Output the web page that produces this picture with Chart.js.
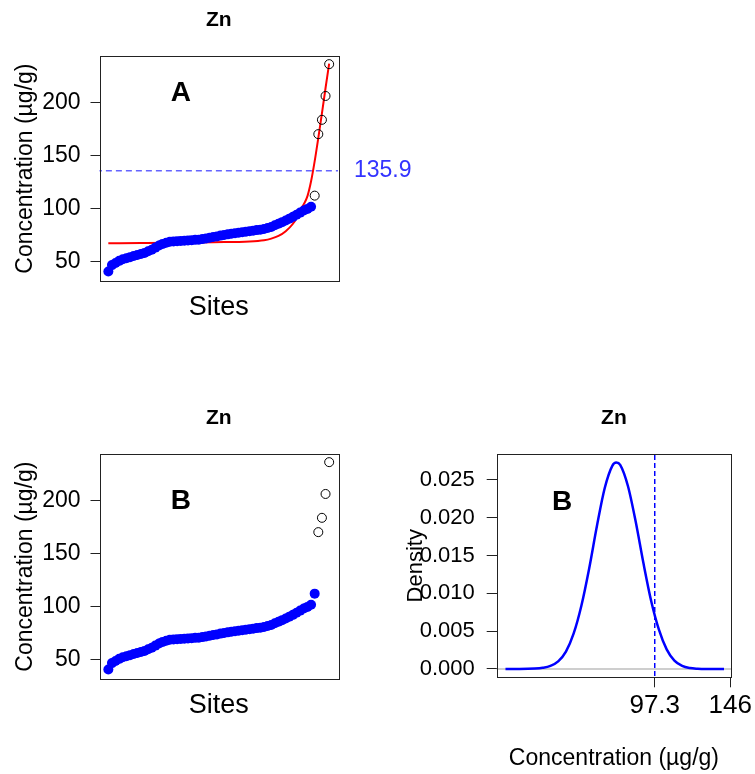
<!DOCTYPE html>
<html lang="en">
  <head>
    <meta charset="UTF-8" />
    <title>Zn</title>
    <script src="https://cdn.jsdelivr.net/npm/chart.js"></script>
    <style>
      body {
        margin: 0;
        background: #fff;
      }
      .wrap {
        position: relative;
        width: 755px;
        height: 774px;
      }
      canvas {
        position: absolute;
      }
    </style>
  </head>
  <body>
    <div class="wrap">
      <canvas id="panelA" width="430" height="335" style="left:0;top:0"></canvas>
      <canvas id="panelB" width="430" height="335" style="left:0;top:398px"></canvas>
      <canvas id="panelD" width="375" height="376" style="left:380px;top:398px"></canvas>
    </div>

    <script>
      // Zn concentration per site, sorted (ug/g)
      const zn = [41, 47, 49, 51, 52.5, 53.5, 54.5, 55.5, 56.5, 57.5, 58.5, 60, 61.5, 63.5,
        65.5, 67, 68, 69, 69.3, 69.5, 69.8, 70, 70.3, 70.5, 70.8, 71, 71.5, 72, 72.8, 73.5,
        74, 74.8, 75.3, 76, 76.5, 77, 77.5, 78, 78.5, 79, 79.5, 80, 80.3, 81, 82, 83, 84.5,
        86, 87.5, 89, 90.8, 92.5, 94.5, 96.5, 98.5, 100, 102, 112.5, 170.5, 184, 206.5, 236.5];
      const outliersA = 5;
      const outliersB = 4;
      const threshold = 135.9;

      // fitted curve (panel A)
      const fitX = [1, 10, 20, 30, 40, 44, 46, 48, 50, 52, 53, 54, 55, 56, 57, 58, 59, 60, 61, 62];
      const fitY = [67.6, 67.8, 68.1, 68.6, 69.3, 70.5, 72, 74.5, 79, 86, 91.5, 98.7, 104.5,
        112, 126, 145, 167, 190, 214, 237];

      // density (panel B right)
      const densX = [1, 10, 20, 25, 30, 35, 40, 45, 50, 55, 60, 65, 70, 72.5, 75, 80, 85, 90,
        95, 100, 105, 110, 115, 120, 125, 130, 142];
      const densY = [0, 0, 0.00005, 0.00015, 0.0004, 0.001, 0.0023, 0.0047, 0.0084, 0.0133,
        0.0189, 0.0239, 0.0269, 0.0273, 0.027, 0.0242, 0.0195, 0.014, 0.009, 0.0052, 0.0026,
        0.0011, 0.0004, 0.00012, 0.00003, 0, 0];
      const densLine = 97.3;
      const densTicks = [97.3, 146];
      const densYTicks = [0, 0.005, 0.01, 0.015, 0.02, 0.025];
      const concTicks = [50, 100, 150, 200];

      const FONT = "'Liberation Sans', Arial, sans-serif";
      const n = zn.length;
      const pad = 0.04 * (n - 1);

      // box around plot region + free text
      const boxPlugin = {
        id: "box",
        afterDatasetsDraw(chart, args, opts) {
          const { ctx, chartArea: a, scales } = chart;
          ctx.save();
          ctx.strokeStyle = "#222";
          ctx.lineWidth = 1;
          ctx.strokeRect(Math.round(a.left) + 0.5, Math.round(a.top) + 0.5,
            Math.round(a.right - a.left), Math.round(a.bottom - a.top));
          (opts.items || []).forEach((t) => {
            ctx.font = t.font;
            ctx.fillStyle = t.color || "#000";
            ctx.textAlign = t.align || "center";
            ctx.textBaseline = "middle";
            const x = t.right ? a.right + t.dx : scales.x.getPixelForValue(t.x);
            ctx.fillText(t.text, x, scales.y.getPixelForValue(t.y));
          });
          ctx.restore();
        },
      };

      function pts(xs, ys) {
        return xs.map((x, i) => ({ x: x, y: ys[i] }));
      }

      function sitesChart(id, nOut, items) {
        const nIn = n - nOut;
        const idx = zn.map((v, i) => i + 1);
        const datasets = [
          {
            data: [{ x: 1, y: 0 }].slice(0, 0),
            order: 5,
          },
        ];
        return { idx, nIn, datasets };
      }

      function makeSites(id, nOut, withFit, items) {
        const nIn = n - nOut;
        const idx = zn.map((v, i) => i + 1);
        const datasets = [];
        if (withFit) {
          datasets.push({
            data: [{ x: -pad, y: threshold }, { x: n + 1 + pad, y: threshold }],
            showLine: true, borderColor: "rgba(60,60,255,0.8)", borderWidth: 1.5,
            borderDash: [6, 4], pointRadius: 0, order: 4,
          });
          datasets.push({
            data: pts(fitX, fitY), showLine: true, borderColor: "#ff0000", borderWidth: 2,
            pointRadius: 0, cubicInterpolationMode: "monotone", order: 3,
          });
        }
        datasets.push({
          data: pts(idx.slice(0, nIn), zn.slice(0, nIn)),
          pointRadius: 5, backgroundColor: "#0000ff", borderColor: "#0000ff",
          borderWidth: 0, order: 2,
        });
        datasets.push({
          data: pts(idx.slice(nIn), zn.slice(nIn)),
          pointRadius: 4.5, backgroundColor: "rgba(0,0,0,0)", borderColor: "#000",
          borderWidth: 1, order: 1,
        });

        new Chart(document.getElementById(id), {
          type: "scatter",
          data: { datasets },
          plugins: [boxPlugin],
          options: {
            responsive: false,
            animation: false,
            layout: { padding: { top: 0, right: 92, left: 0, bottom: 0 } },
            plugins: {
              legend: { display: false },
              tooltip: { enabled: false },
              title: {
                display: true, text: "Zn", fullSize: false, color: "#000",
                font: { family: FONT, size: 21, weight: "bold" },
                padding: { top: 8, bottom: 23 },
              },
              box: { items },
            },
            scales: {
              x: {
                type: "linear", min: 1 - pad, max: n + pad,
                grid: { display: false }, border: { display: false },
                ticks: { display: false },
                title: {
                  display: true, text: "Sites", color: "#000",
                  font: { family: FONT, size: 27 }, padding: { bottom: 11 },
                },
                afterFit: (s) => { s.height = 54; },
              },
              y: {
                min: 32, max: 244,
                grid: { drawOnChartArea: false, color: "#222", tickLength: 9 },
                border: { display: false },
                ticks: {
                  color: "#000", padding: 10, autoSkip: false,
                  font: { family: FONT, size: 23 },
                },
                afterBuildTicks: (s) => { s.ticks = concTicks.map((v) => ({ value: v })); },
                title: {
                  display: true, text: "Concentration (µg/g)", color: "#000",
                  font: { family: FONT, size: 23 }, padding: { top: 12 },
                },
                afterFit: (s) => { s.width = 99.5; },
              },
            },
          },
        });
      }

      makeSites("panelA", outliersA, true, [
        { text: "A", x: 21, y: 209, font: "bold 28px " + FONT },
        { text: String(threshold), right: true, dx: 16, y: threshold, align: "left",
          color: "#3333ff", font: "23px " + FONT },
      ]);
      makeSites("panelB", outliersB, false, [
        { text: "B", x: 21, y: 200, font: "bold 28px " + FONT },
      ]);

      new Chart(document.getElementById("panelD"), {
        type: "scatter",
        data: {
          datasets: [
            {
              data: [{ x: -10, y: 0 }, { x: 160, y: 0 }], showLine: true,
              borderColor: "#bebebe", borderWidth: 1.5, pointRadius: 0, order: 3,
            },
            {
              data: [{ x: densLine, y: -0.002 }, { x: densLine, y: 0.03 }], showLine: true,
              borderColor: "#0000ff", borderWidth: 1.5, borderDash: [5, 3], pointRadius: 0,
              order: 2,
            },
            {
              data: pts(densX, densY), showLine: true, borderColor: "#0000ff", borderWidth: 2.5,
              pointRadius: 0, cubicInterpolationMode: "monotone", order: 1,
            },
          ],
        },
        plugins: [boxPlugin],
        options: {
          responsive: false,
          animation: false,
          layout: { padding: { top: 0, right: 20, left: 0, bottom: 0 } },
          plugins: {
            legend: { display: false },
            tooltip: { enabled: false },
            title: {
              display: true, text: "Zn", fullSize: false, color: "#000",
              font: { family: FONT, size: 21, weight: "bold" },
              padding: { top: 8, bottom: 23 },
            },
            box: { items: [{ text: "B", x: 37.6, y: 0.0221, font: "bold 28px " + FONT }] },
          },
          scales: {
            x: {
              type: "linear", min: -4.67, max: 146.6,
              grid: { drawOnChartArea: false, color: "#222", tickLength: 10 },
              border: { display: false },
              ticks: {
                color: "#000", padding: 3, autoSkip: false, maxRotation: 0,
                font: { family: FONT, size: 26 },
                callback: (v) => String(v),
              },
              afterBuildTicks: (s) => { s.ticks = densTicks.map((v) => ({ value: v })); },
              title: {
                display: true, text: "Concentration (µg/g)", color: "#000",
                font: { family: FONT, size: 23 }, padding: { bottom: 2 },
              },
              afterFit: (s) => { s.height = 96.7; },
            },
            y: {
              min: -0.0011, max: 0.0284,
              grid: { drawOnChartArea: false, color: "#222", tickLength: 10 },
              border: { display: false },
              ticks: {
                color: "#000", padding: 12, autoSkip: false,
                font: { family: FONT, size: 22 },
                callback: (v) => v.toFixed(3),
              },
              afterBuildTicks: (s) => { s.ticks = densYTicks.map((v) => ({ value: v })); },
              title: {
                display: true, text: "Density", color: "#000",
                font: { family: FONT, size: 22 }, padding: { top: 23 },
              },
              afterFit: (s) => { s.width = 116.7; },
            },
          },
        },
      });
    </script>
  </body>
</html>
